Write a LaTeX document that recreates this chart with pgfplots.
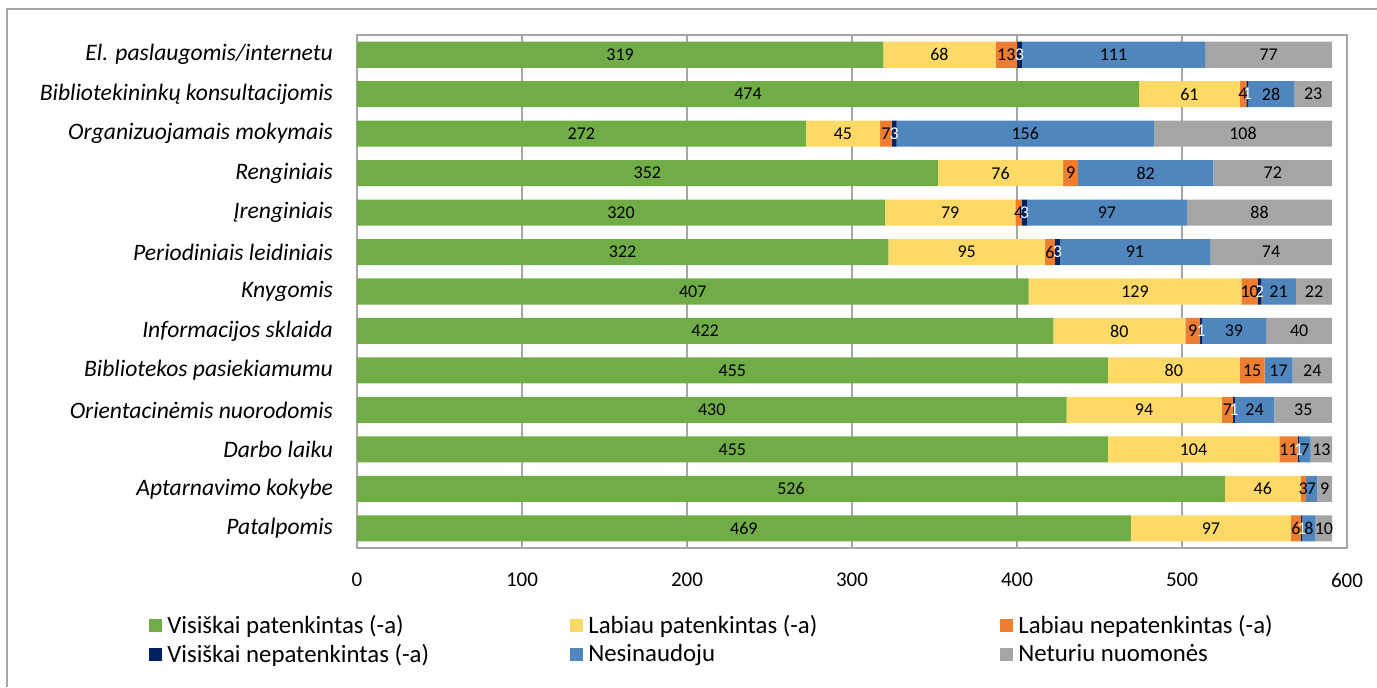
\documentclass[border=0pt]{standalone}
\usepackage{fontspec}
\setmainfont{Carlito}
\usepackage{pgfplots}
\usepackage{pgfplotstable}
\pgfplotsset{compat=1.18}

\definecolor{cgreen}{HTML}{70AD47}
\definecolor{cyellow}{HTML}{FFD966}
\definecolor{corange}{HTML}{ED7D31}
\definecolor{cnavy}{HTML}{002060}
\definecolor{cblue}{HTML}{4F86BE}
\definecolor{cgray}{HTML}{A5A5A5}
\definecolor{cline}{HTML}{A6A6A6}

% columns: visiskai pat., labiau pat., labiau nepat., visiskai nepat., nesinaudoju, neturiu nuomones
\pgfplotstableread{
idx vp lp ln vn ne nn
0 319 68 13 3 111 77
1 474 61 4 1 28 23
2 272 45 7 3 156 108
3 352 76 9 0 82 72
4 320 79 4 3 97 88
5 322 95 6 3 91 74
6 407 129 10 2 21 22
7 422 80 9 1 39 40
8 455 80 15 0 17 24
9 430 94 7 1 24 35
10 455 104 11 1 7 13
11 526 46 3 0 7 9
12 469 97 6 1 8 10
}\data

\begin{document}
\begin{tikzpicture}
\useasboundingbox (0,0) rectangle (688.5pt,343.5pt);
\draw[cline, line width=0.8pt] (3.5pt,0) -- (3.5pt,339pt) -- (688.5pt,339pt);
\begin{axis}[
  at={(178.5pt,69.5pt)},
  anchor=south west,
  scale only axis,
  width=495pt,
  height=256.5pt,
  xbar stacked,
  bar width=0.66,
  xmin=0, xmax=600,
  ymin=-0.5, ymax=12.5,
  y dir=reverse,
  xtick={0,100,...,600},
  ytick={0,...,12},
  yticklabels={El. paslaugomis/internetu\ ,Bibliotekininkų konsultacijomis,Organizuojamais mokymais,Renginiais,Įrenginiais,Periodiniais leidiniais,Knygomis,Informacijos sklaida,Bibliotekos pasiekiamumu,Orientacinėmis nuorodomis,Darbo laiku,Aptarnavimo kokybe,Patalpomis},
  major tick length=0pt,
  axis line style={cline, line width=0.6pt},
  xmajorgrids,
  grid style={cline, line width=0.6pt},
  /pgf/number format/assume math mode=true,
  xticklabel style={font=\fontsize{10.5}{12}\selectfont, yshift=-9pt},
  yticklabel style={font=\fontsize{11.8}{13}\selectfont\itshape, xshift=-8.5pt},
  nodes near coords={\pgfmathfloatifflags{\pgfplotspointmeta}{0}{}{\pgfmathprintnumber{\pgfplotspointmeta}}},
  every node near coord/.append style={font=\fontsize{9}{10}\selectfont, text=black},
  legend columns=3,
  legend image code/.code={\fill[#1] (0pt,-3.2pt) rectangle (6.5pt,3.2pt);},
  legend style={
    at={(-0.2162,-0.117)}, anchor=north west,
    draw=none, fill=none,
    font=\fontsize{12.4}{14}\selectfont,
    row sep=1.4pt,
    /tikz/column 4/.style={column sep=4.5pt},
    nodes={text width=199pt, align=flush left, inner xsep=2.5pt, inner ysep=1.3pt},
  },
  legend cell align=left,
]
\addplot[fill=cgreen, draw=none] table[x=vp, y=idx] {\data};
\addlegendentry{Visiškai patenkintas (-a)}
\addplot[fill=cyellow, draw=none] table[x=lp, y=idx] {\data};
\addlegendentry{Labiau patenkintas (-a)}
\addplot[fill=corange, draw=none] table[x=ln, y=idx] {\data};
\addlegendentry{Labiau nepatenkintas (-a)}
\addplot[fill=cnavy, draw=none, every node near coord/.append style={text=white}] table[x=vn, y=idx] {\data};
\addlegendentry{Visiškai nepatenkintas (-a)}
\addplot[fill=cblue, draw=none] table[x=ne, y=idx] {\data};
\addlegendentry{Nesinaudoju}
\addplot[fill=cgray, draw=none] table[x=nn, y=idx] {\data};
\addlegendentry{Neturiu nuomonės}
\end{axis}
\end{tikzpicture}
\end{document}
